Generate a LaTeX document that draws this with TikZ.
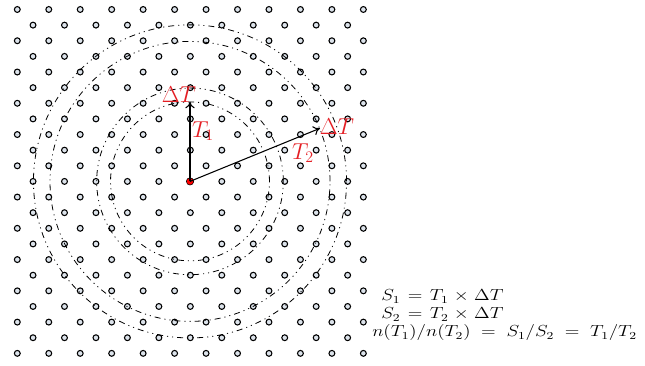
\documentclass[tikz,border=0pt]{standalone}
\usetikzlibrary{arrows.meta}
\definecolor{latfill}{HTML}{DCE3EB}
\definecolor{lblred}{RGB}{228,30,36}
\tikzset{
  latpt/.style={draw=black, fill=latfill, line width=0.8pt},
  ring/.style={draw=black, line width=0.6pt, dash pattern=on 4.5pt off 3pt on 0.8pt off 3pt on 0.8pt off 3pt},
  vec/.style={draw=black, line width=0.8pt, -{To[length=5pt,width=7pt]}},
  redlbl/.style={text=lblred, inner sep=0pt, font=\fontsize{17.28}{19}\selectfont},
  eqlbl/.style={inner sep=0pt, anchor=base west, font=\fontsize{12}{14}\selectfont},
  reddot/.style={circle, fill=red, draw=black, line width=0.4pt, minimum size=5.5pt, inner sep=0pt}
}
\begin{document}
\begin{tikzpicture}[x=0.75pt,y=0.75pt]
\useasboundingbox (0,0) rectangle (645,366);
% lattice
\foreach \r in {0,...,22}{
  \pgfmathsetmacro\yy{366-9.5-15.63*\r}
  \pgfmathtruncatemacro\odd{mod(\r,2)}
  \pgfmathsetmacro\xo{17.3+15.73*\odd}
  \pgfmathtruncatemacro\kmax{11-\odd}
  \foreach \k in {0,...,\kmax}{
    \path[latpt] ({\xo+31.46*\k},\yy) circle[radius=2.2pt];
  }
}
% centre
\node[reddot] (o) at (190,184.6) {};
% rings
\path[ring] (o.center) circle[radius=59.6pt];
\path[ring] (o.center) circle[radius=70pt];
\path[ring] (o.center) circle[radius=105pt];
\path[ring] (o.center) circle[radius=117.4pt];
% vectors
\coordinate (t1) at (190,264.3);
\coordinate (t2) at (320,237.7);
\draw[vec] (o.center) -- (t1);
\draw[vec] (o.center) -- (t2);
\node[redlbl] (d1) at (179,271) {$\Delta T$};
\node[redlbl] (l1) at (203,235) {$T_1$};
\node[redlbl] (d2) at (337,239) {$\Delta T$};
\node[redlbl] (l2) at (303,213) {$T_2$};
% equations
\node[eqlbl] (e1) at (381,65) {\scalebox{1.2}[1]{$\thickmuskip=7mu \medmuskip=5mu S_1 = T_1 \times \Delta T$}};
\node[eqlbl] (e2) at (381,47) {\scalebox{1.2}[1]{$\thickmuskip=7mu \medmuskip=5mu S_2 = T_2 \times \Delta T$}};
\node[eqlbl] (e3) at (372,29) {\scalebox{1.2}[1]{$\thickmuskip=10mu n(T_1)/n(T_2) = S_1/S_2 = T_1/T_2$}};
\end{tikzpicture}
\end{document}
